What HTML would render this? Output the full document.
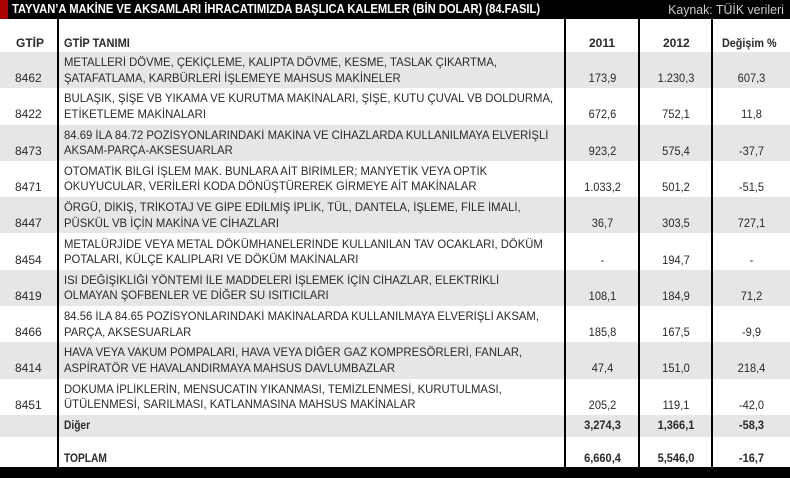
<!DOCTYPE html>
<html><head><meta charset="utf-8"><style>
*{margin:0;padding:0;box-sizing:border-box}
body{width:790px;height:478px;background:#fff;position:relative;overflow:hidden;font-family:"Liberation Sans",sans-serif;color:#2a2a2a}
.abs{position:absolute;white-space:nowrap}
.row{position:absolute;left:0;width:790px;height:36.3px}
.g{background:#e6e6e6}
.d{position:absolute;left:64px;font-size:11.6px;line-height:15.5px;transform:scaleX(0.975);transform-origin:left top;white-space:nowrap}
.c{position:absolute;font-size:12px;transform:scaleX(0.92);text-align:center;white-space:nowrap}
.vl{position:absolute;top:19px;width:2px;height:450px;background:#000}
</style></head><body>
<div class="abs" style="left:0;top:0;width:790px;height:19px;background:#000"></div>
<div class="abs" style="left:0;top:0;width:8px;height:19px;background:#a00"></div>
<div class="abs" style="left:12px;top:2px;color:#fff;font-weight:bold;font-size:12.5px;transform:scaleX(0.895);transform-origin:left top">TAYVAN’A MAKİNE VE AKSAMLARI İHRACATIMIZDA BAŞLICA KALEMLER (BİN DOLAR) (84.FASIL)</div>
<div class="abs" style="right:6px;top:2px;color:#ccc;font-size:13px;transform:scaleX(0.95);transform-origin:right top">Kaynak: TÜİK verileri</div>

<div class="abs" style="left:16px;top:36px;font-weight:bold;font-size:12px">GTİP</div>
<div class="abs" style="left:64px;top:36px;font-weight:bold;font-size:12px;transform:scaleX(0.92);transform-origin:left top">GTİP TANIMI</div>
<div class="abs" style="left:589px;top:36px;font-weight:bold;font-size:12px">2011</div>
<div class="abs" style="left:663px;top:36px;font-weight:bold;font-size:12px">2012</div>
<div class="abs" style="left:722px;top:36px;font-weight:bold;font-size:12px;transform:scaleX(0.9);transform-origin:left top">Değişim %</div>

<div id="rows"></div>
<script>
var data=[
["8462","METALLERİ DÖVME, ÇEKİÇLEME, KALIPTA DÖVME, KESME, TASLAK ÇIKARTMA,","ŞATAFATLAMA, KARBÜRLERİ İŞLEMEYE MAHSUS MAKİNELER","173,9","1.230,3","607,3"],
["8422","BULAŞIK, ŞİŞE VB YIKAMA VE KURUTMA MAKİNALARI, ŞİŞE, KUTU ÇUVAL VB DOLDURMA,","ETİKETLEME MAKİNALARI","672,6","752,1","11,8"],
["8473","84.69 İLA 84.72 POZİSYONLARINDAKİ MAKİNA VE CİHAZLARDA KULLANILMAYA ELVERİŞLİ","AKSAM-PARÇA-AKSESUARLAR","923,2","575,4","-37,7"],
["8471","OTOMATİK BİLGİ İŞLEM MAK. BUNLARA AİT BİRİMLER; MANYETİK VEYA OPTİK","OKUYUCULAR, VERİLERİ KODA DÖNÜŞTÜREREK GİRMEYE AİT MAKİNALAR","1.033,2","501,2","-51,5"],
["8447","ÖRGÜ, DİKİŞ, TRİKOTAJ VE GİPE EDİLMİŞ İPLİK, TÜL, DANTELA, İŞLEME, FİLE İMALİ,","PÜSKÜL VB İÇİN MAKİNA VE CİHAZLARI","36,7","303,5","727,1"],
["8454","METALÜRJİDE VEYA METAL DÖKÜMHANELERİNDE KULLANILAN TAV OCAKLARI, DÖKÜM","POTALARI, KÜLÇE KALIPLARI VE DÖKÜM MAKİNALARI","-","194,7","-"],
["8419","ISI DEĞİŞİKLİĞİ YÖNTEMİ İLE MADDELERİ İŞLEMEK İÇİN CİHAZLAR, ELEKTRİKLİ","OLMAYAN ŞOFBENLER VE DİĞER SU ISITICILARI","108,1","184,9","71,2"],
["8466","84.56 İLA 84.65 POZİSYONLARINDAKİ MAKİNALARDA KULLANILMAYA ELVERİŞLİ AKSAM,","PARÇA, AKSESUARLAR","185,8","167,5","-9,9"],
["8414","HAVA VEYA VAKUM POMPALARI, HAVA VEYA DİĞER GAZ KOMPRESÖRLERİ, FANLAR,","ASPİRATÖR VE HAVALANDIRMAYA MAHSUS DAVLUMBAZLAR","47,4","151,0","218,4"],
["8451","DOKUMA İPLİKLERİN, MENSUCATIN YIKANMASI, TEMİZLENMESİ, KURUTULMASI,","ÜTÜLENMESİ, SARILMASI, KATLANMASINA MAHSUS MAKİNALAR","205,2","119,1","-42,0"]];
var h="";
data.forEach(function(r,i){
 var t=52+i*36.3;
 h+='<div class="row'+(i%2==0?' g':'')+'" style="top:'+t+'px"></div>';
 h+='<div class="abs" style="left:15px;top:'+(t+19)+'px;font-size:12px">'+r[0]+'</div>';
 h+='<div class="d" style="top:'+(t+3)+'px">'+r[1]+'<br>'+r[2]+'</div>';
 [[566,639,r[3]],[640,712,r[4]],[713,790,r[5]]].forEach(function(c){
  h+='<div class="c" style="left:'+c[0]+'px;width:'+(c[1]-c[0])+'px;top:'+(t+19)+'px">'+c[2]+'</div>';});
});
h+='<div class="row g" style="top:415px;height:22px"></div>';
h+='<div class="abs" style="left:64px;top:418px;font-size:12px;font-weight:bold;transform:scaleX(0.85);transform-origin:left top">Diğer</div>';
h+='<div class="abs" style="left:64px;top:451px;font-size:12px;font-weight:bold;transform:scaleX(0.85);transform-origin:left top">TOPLAM</div>';
[[566,639,"3,274,3","6,660,4"],[640,712,"1,366,1","5,546,0"],[713,790,"-58,3","-16,7"]].forEach(function(c){
 h+='<div class="c" style="font-weight:bold;left:'+c[0]+'px;width:'+(c[1]-c[0])+'px;top:418px">'+c[2]+'</div>';
 h+='<div class="c" style="font-weight:bold;left:'+c[0]+'px;width:'+(c[1]-c[0])+'px;top:451px">'+c[3]+'</div>';});
document.getElementById("rows").innerHTML=h;
</script>
<div class="vl" style="left:57px"></div>
<div class="vl" style="left:564px"></div>
<div class="vl" style="left:638px"></div>
<div class="vl" style="left:711px"></div>
<div class="abs" style="left:0;top:467px;width:790px;height:11px;background:#000"></div>
</body></html>
